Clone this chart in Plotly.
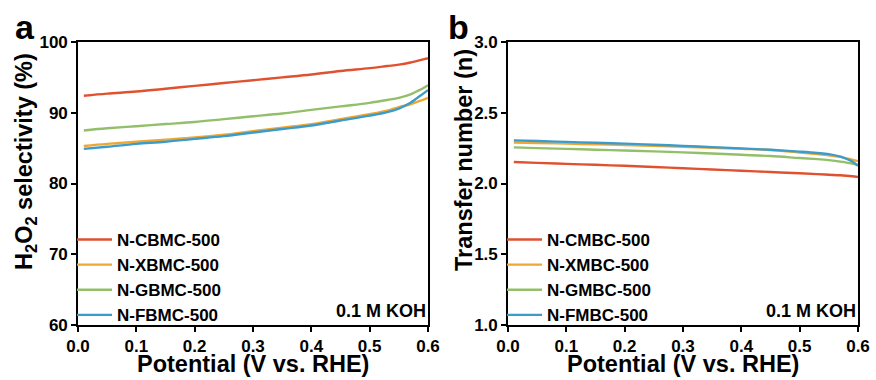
import plotly.graph_objects as go

# ---- data ----
potential = [0.01, 0.05, 0.10, 0.15, 0.20, 0.25, 0.30, 0.35, 0.40, 0.45, 0.50,
             0.53, 0.55, 0.57, 0.58, 0.59, 0.60]

sel_names = ["N-CBMC-500", "N-XBMC-500", "N-GBMC-500", "N-FBMC-500"]
sel_cbmc = [92.4, 92.7, 93.0, 93.4, 93.8, 94.2, 94.6, 95.0, 95.4, 95.9, 96.3, 96.6, 96.8, 97.1, 97.3, 97.5, 97.7]
sel_xbmc = [85.3, 85.6, 85.9, 86.2, 86.5, 86.9, 87.4, 87.9, 88.4, 89.1, 89.8, 90.3, 90.8, 91.2, 91.5, 91.8, 92.1]
sel_gbmc = [87.5, 87.8, 88.1, 88.4, 88.7, 89.1, 89.5, 89.9, 90.4, 90.9, 91.4, 91.8, 92.1, 92.6, 93.0, 93.4, 93.9]
sel_fbmc = [84.9, 85.2, 85.6, 85.9, 86.3, 86.7, 87.2, 87.7, 88.2, 88.9, 89.6, 90.1, 90.6, 91.4, 92.0, 92.6, 93.2]

n_names = ["N-CMBC-500", "N-XMBC-500", "N-GMBC-500", "N-FMBC-500"]
n_cmbc = [2.152, 2.146, 2.139, 2.132, 2.125, 2.117, 2.108, 2.099, 2.090, 2.081, 2.072, 2.066, 2.062, 2.058, 2.055, 2.051, 2.046]
n_xmbc = [2.290, 2.286, 2.282, 2.277, 2.272, 2.266, 2.260, 2.253, 2.245, 2.237, 2.218, 2.208, 2.200, 2.188, 2.178, 2.168, 2.158]
n_gmbc = [2.255, 2.250, 2.245, 2.239, 2.233, 2.227, 2.220, 2.212, 2.203, 2.194, 2.180, 2.172, 2.165, 2.155, 2.148, 2.140, 2.130]
n_fmbc = [2.305, 2.300, 2.294, 2.288, 2.282, 2.274, 2.266, 2.257, 2.248, 2.238, 2.225, 2.216, 2.208, 2.190, 2.175, 2.155, 2.125]

x_title = "Potential (V vs. RHE)"
y_title_a = "H<sub>2</sub>O<sub>2</sub> selectivity (%)"
y_title_b = "Transfer number (n)"
condition = "0.1 M KOH"

colors = ["#E0522F", "#EFA733", "#93BF6A", "#3A9CCB"]

FONT = "Arial, Liberation Sans, sans-serif"
W, H = 876, 380

fig = go.Figure()
for name, ys, c in zip(sel_names, [sel_cbmc, sel_xbmc, sel_gbmc, sel_fbmc], colors):
    fig.add_trace(go.Scatter(x=potential, y=ys, name=name, mode="lines",
                             line=dict(color=c, width=2.4, shape="spline"),
                             xaxis="x", yaxis="y", legend="legend"))
for name, ys, c in zip(n_names, [n_cmbc, n_xmbc, n_gmbc, n_fmbc], colors):
    fig.add_trace(go.Scatter(x=potential, y=ys, name=name, mode="lines",
                             line=dict(color=c, width=2.4, shape="spline"),
                             xaxis="x2", yaxis="y2", legend="legend2"))

def px(v):
    return v / W

def py(v):
    return 1 - v / H

tickfont = dict(family=FONT, size=17, color="black", weight="bold")
titlefont = dict(family=FONT, size=23.5, color="black", weight="bold")
legfont = dict(family=FONT, size=17, color="black", weight="bold")

ax_common = dict(showline=True, linecolor="black", linewidth=1.6, mirror=True,
                 ticks="outside", ticklen=5, tickwidth=1.6, tickcolor="black",
                 showgrid=False, zeroline=False, tickfont=tickfont, automargin=False)

fig.update_layout(
    width=W, height=H,
    margin=dict(l=0, r=0, t=0, b=0),
    paper_bgcolor="white", plot_bgcolor="white",
    xaxis=dict(domain=[px(78), px(428)], range=[0, 0.6], dtick=0.1, tickformat=".1f",
               anchor="y", **ax_common),
    yaxis=dict(domain=[py(325), py(42)], range=[60, 100], dtick=10, anchor="x",
               **ax_common),
    xaxis2=dict(domain=[px(508), px(858)], range=[0, 0.6], dtick=0.1, tickformat=".1f",
                anchor="y2", **ax_common),
    yaxis2=dict(domain=[py(325), py(42)], range=[1.0, 3.0], dtick=0.5, tickformat=".1f",
                anchor="x2", **ax_common),
    legend=dict(x=px(72), y=py(333), xanchor="left", yanchor="bottom", itemwidth=35,
                bgcolor="rgba(0,0,0,0)", borderwidth=0, tracegroupgap=0, font=legfont),
    legend2=dict(x=px(502), y=py(333), xanchor="left", yanchor="bottom", itemwidth=35,
                 bgcolor="rgba(0,0,0,0)", borderwidth=0, tracegroupgap=0, font=legfont),
    showlegend=True,
)

annots = [
    dict(text="a", x=px(25), y=py(27), xanchor="center", yanchor="middle",
         font=dict(family=FONT, size=34, color="black", weight="bold")),
    dict(text="b", x=px(458), y=py(27), xanchor="center", yanchor="middle",
         font=dict(family=FONT, size=34, color="black", weight="bold")),
    dict(text=condition, x=px(428), y=py(323), xanchor="right", yanchor="bottom",
         font=dict(family=FONT, size=18, color="black", weight="bold")),
    dict(text=condition, x=px(858), y=py(323), xanchor="right", yanchor="bottom",
         font=dict(family=FONT, size=18, color="black", weight="bold")),
    dict(text=x_title, x=px(253), y=py(364), xanchor="center", yanchor="middle", font=titlefont),
    dict(text=x_title, x=px(683), y=py(364), xanchor="center", yanchor="middle", font=titlefont),
    dict(text=y_title_a, x=px(25), y=py(162), xanchor="center", yanchor="middle",
         textangle=-90, font=titlefont),
    dict(text=y_title_b, x=px(464), y=py(160), xanchor="center", yanchor="middle",
         textangle=-90, font=titlefont),
]
for a in annots:
    a.update(xref="paper", yref="paper", showarrow=False)
fig.update_layout(annotations=annots)

fig.write_html("out.html")
